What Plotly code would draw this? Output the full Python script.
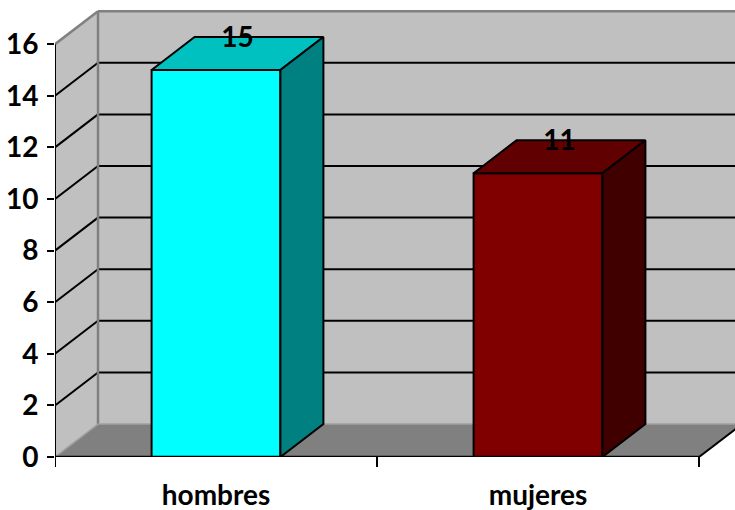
import plotly.graph_objects as go

# ---- data ----
categories = ["hombres", "mujeres"]
values = [15, 11]
y_ticks = [0, 2, 4, 6, 8, 10, 12, 14, 16]
front_colors = ["#00FFFF", "#800000"]
top_colors = ["#00C0C0", "#600000"]
side_colors = ["#008080", "#400000"]

# ---- geometry (axis units) ----
PX_X = 322.0      # pixels per category
PX_Y = 25.83      # pixels per y unit
DX = 43 / PX_X    # depth offset in x
DY = 33 / PX_Y    # depth offset in y
BAR_W = 0.4
Y_TOP = y_ticks[-1]
N = len(categories)
XMAX = 680 / PX_X
YMAX = 457.5 / PX_Y

FONT = "Lato"
FS = 28

centers = [i + 0.5 for i in range(N)]

fig = go.Figure()

# front faces
fig.add_trace(go.Bar(
    x=centers, y=values, width=BAR_W,
    marker=dict(color=front_colors, line=dict(color="black", width=2)),
    hoverinfo="skip", showlegend=False,
))

# top and side faces
for c, v, tc, sc in zip(centers, values, top_colors, side_colors):
    xl, xr = c - BAR_W / 2, c + BAR_W / 2
    fig.add_trace(go.Scatter(
        x=[xl, xl + DX, xr + DX, xr, xl], y=[v, v + DY, v + DY, v, v],
        mode="lines", fill="toself", fillcolor=tc,
        line=dict(color="black", width=2), hoverinfo="skip", showlegend=False,
    ))
    fig.add_trace(go.Scatter(
        x=[xr, xr + DX, xr + DX, xr, xr], y=[0, DY, v + DY, v, 0],
        mode="lines", fill="toself", fillcolor=sc,
        line=dict(color="black", width=2), hoverinfo="skip", showlegend=False,
    ))

# value labels
fig.add_trace(go.Scatter(
    x=[c + DX / 2 for c in centers], y=[v + DY - 0.12 for v in values],
    mode="text", text=[str(v) for v in values],
    textposition="middle center",
    textfont=dict(family=FONT, size=FS, color="black", weight="bold"),
    cliponaxis=False, hoverinfo="skip", showlegend=False,
))

shapes = []
# left wall
shapes.append(dict(type="path", xref="x", yref="y", layer="below",
                   path=f"M 0 0 L {DX} {DY} L {DX} {Y_TOP + DY} L 0 {Y_TOP} Z",
                   fillcolor="#C0C0C0", line=dict(width=0)))
# back wall
shapes.append(dict(type="rect", xref="x", yref="y", layer="below",
                   x0=DX, x1=N + DX, y0=DY, y1=Y_TOP + DY,
                   fillcolor="#C0C0C0", line=dict(width=0)))
# floor
shapes.append(dict(type="path", xref="x", yref="y", layer="below",
                   path=f"M 0 0 L {N} 0 L {N + DX} {DY} L {DX} {DY} Z",
                   fillcolor="#808080", line=dict(width=0)))
# gridlines
for t in y_ticks[1:-1]:
    shapes.append(dict(type="line", xref="x", yref="y", layer="below",
                       x0=DX, x1=N + DX, y0=t + DY, y1=t + DY,
                       line=dict(color="black", width=2)))
    shapes.append(dict(type="line", xref="x", yref="y", layer="below",
                       x0=0, x1=DX, y0=t, y1=t + DY,
                       line=dict(color="black", width=2)))
# wall edges (gray)
for (x0, y0, x1, y1) in [(0, Y_TOP, DX, Y_TOP + DY), (DX, Y_TOP + DY, N + DX, Y_TOP + DY),
                         (DX, DY, DX, Y_TOP + DY)]:
    shapes.append(dict(type="line", xref="x", yref="y", layer="below",
                       x0=x0, y0=y0, x1=x1, y1=y1, line=dict(color="#808080", width=2.5)))
for (x0, y0, x1, y1) in [(0, 0, DX, DY), (DX, DY, N + DX, DY)]:
    shapes.append(dict(type="line", xref="x", yref="y", layer="below",
                       x0=x0, y0=y0, x1=x1, y1=y1, line=dict(color="#A0A0A0", width=1.5)))
# floor right edge and front axis line
shapes.append(dict(type="line", xref="x", yref="y", layer="above",
                   x0=N, y0=0, x1=N + DX, y1=DY, line=dict(color="black", width=2)))
shapes.append(dict(type="line", xref="x", yref="y", layer="above",
                   x0=0, y0=0, x1=N, y1=0, line=dict(color="black", width=2.5)))
# y axis line
shapes.append(dict(type="line", xref="x", yref="y", layer="above",
                   x0=0, y0=0, x1=0, y1=Y_TOP, line=dict(color="black", width=2)))
# x tick marks at category boundaries
for k in range(N + 1):
    shapes.append(dict(type="line", xref="x", yref="paper", layer="above",
                       x0=k, x1=k, y0=0, y1=-10 / 457, line=dict(color="black", width=2)))

fig.update_layout(
    width=735, height=510,
    margin=dict(l=55, r=0, t=0, b=52.5, pad=0),
    paper_bgcolor="white", plot_bgcolor="white",
    shapes=shapes, showlegend=False,
    xaxis=dict(range=[0, XMAX], tickvals=centers, ticktext=categories,
               ticks="", showgrid=False, zeroline=False, showline=False,
               tickfont=dict(family=FONT, size=FS, color="black", weight="bold"),
               ticklabelstandoff=19, fixedrange=True),
    yaxis=dict(range=[0, YMAX], tickvals=y_ticks, ticks="outside", ticklen=7,
               tickwidth=2, tickcolor="black", showgrid=False, zeroline=False,
               showline=False,
               tickfont=dict(family=FONT, size=FS, color="black", weight="bold"),
               ticklabelstandoff=3, fixedrange=True),
)

fig.write_html("out.html")
